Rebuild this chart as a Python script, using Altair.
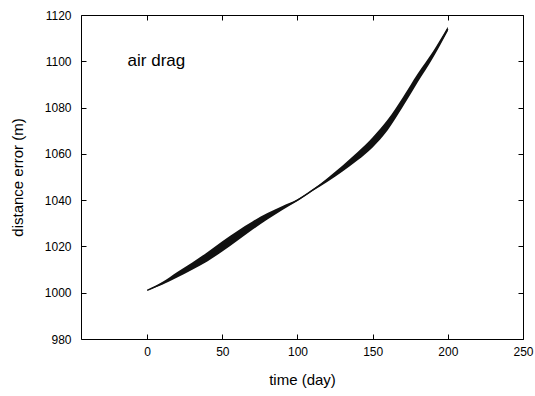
import altair as alt
import pandas as pd

# ---- data ----
time_day = [0, 10, 20, 30, 40, 50, 60, 70, 80, 90, 100,
            110, 120, 130, 140, 150, 160, 170, 180, 190, 200]
center_m = [1001.0, 1004.0, 1007.8, 1011.5, 1015.5, 1020.0, 1024.6, 1029.0, 1033.0, 1036.6, 1040.0,
            1044.3, 1048.8, 1053.7, 1059.0, 1065.0, 1072.5, 1082.3, 1092.8, 1102.7, 1114.0]
half_band_m = [0.0, 0.6, 1.2, 1.6, 2.0, 2.2, 2.1, 1.8, 1.4, 0.9, 0.4,
               0.3, 0.8, 1.3, 1.8, 2.2, 2.3, 2.1, 1.9, 1.4, 0.9]

x_ticks = [0, 50, 100, 150, 200, 250]
y_ticks = [980, 1000, 1020, 1040, 1060, 1080, 1100, 1120]
x_domain = [-44, 250]
y_domain = [980, 1120]

label_text = ["air drag"]
label_time = [-13]
label_dist = [1098]

df = pd.DataFrame({
    "t": time_day,
    "c": center_m,
    "lo": [c - h for c, h in zip(center_m, half_band_m)],
    "hi": [c + h for c, h in zip(center_m, half_band_m)],
})
lab = pd.DataFrame({"t": label_time, "v": label_dist, "s": label_text})

FONT = "Liberation Sans"
xs = alt.Scale(domain=x_domain, nice=False, zero=False)
ys = alt.Scale(domain=y_domain, nice=False, zero=False)

common = dict(offset=-5, tickSize=5, domain=False, grid=False, tickColor="black",
              tickWidth=1, labelFont=FONT, titleFont=FONT, labelColor="black",
              titleColor="black", labelFontSize=12, titleFontSize=15,
              titleFontWeight="normal", format="d")

x_bottom = alt.Axis(orient="bottom", values=x_ticks, labelPadding=7, title="time (day)",
                    titlePadding=15, labelFlush=False, **common)
y_left = alt.Axis(orient="left", values=y_ticks, labelPadding=10, title="distance error (m)",
                  titlePadding=19, labelFlush=False, **common)
x_top = alt.Axis(orient="top", values=x_ticks, labels=False, title=None, **common)
y_right = alt.Axis(orient="right", values=y_ticks, labels=False, title=None, **common)

band = alt.Chart(df).mark_area(color="#111111", opacity=1, interpolate="monotone").encode(
    x=alt.X("t:Q", scale=xs, axis=x_bottom),
    y=alt.Y("lo:Q", scale=ys, axis=y_left),
    y2="hi:Q",
)
line = alt.Chart(df).mark_line(color="#111111", strokeWidth=1.4, interpolate="monotone").encode(
    x=alt.X("t:Q", scale=xs, axis=x_top),
    y=alt.Y("c:Q", scale=ys, axis=y_right),
)
text = alt.Chart(lab).mark_text(align="left", baseline="alphabetic", font=FONT,
                                fontSize=17, color="black").encode(
    x=alt.X("t:Q", scale=xs, axis=None),
    y=alt.Y("v:Q", scale=ys, axis=None),
    text="s:N",
)

chart = alt.layer(band, line, text).resolve_axis(x="independent", y="independent").properties(
    width=442, height=324,
    autosize=alt.AutoSizeParams(type="none"),
    padding={"left": 81, "top": 15, "right": 12, "bottom": 57},
    background="white",
).configure_view(stroke="black", strokeWidth=1)

chart.save("out.html", embed_options={"renderer": "svg", "actions": False})
